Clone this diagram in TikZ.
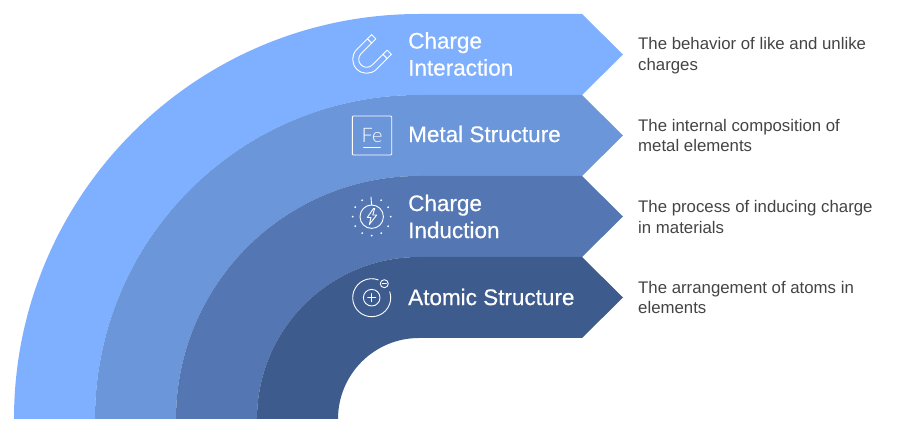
\documentclass[tikz,border=0pt]{standalone}
\usepackage{fontspec}
\setmainfont{Liberation Sans}
\newfontfamily\titlefont[FakeBold=0.35]{Liberation Sans}
\newfontfamily\thinfont{Lato Light}
\definecolor{bandA}{HTML}{7FB0FF}
\definecolor{bandB}{HTML}{6B96D9}
\definecolor{bandC}{HTML}{5477B3}
\definecolor{bandD}{HTML}{3E5B8D}
\definecolor{noteText}{HTML}{444444}
\tikzset{
	title/.style={anchor=west,align=left,text=white,inner sep=0pt,font=\titlefont\fontsize{22.5}{27}\selectfont},
	note/.style={anchor=west,align=left,text=noteText,inner sep=0pt,font=\fontsize{16.8}{20.5}\selectfont},
	icon/.style={draw=white,line width=0.9pt,line join=round,line cap=round}
}
\begin{document}
\begin{tikzpicture}[x=1pt,y=1pt]
	\useasboundingbox (0,0) rectangle (906,434);
	% bands, outermost first
	\foreach \rad/\col in {405/bandA,324/bandB,243/bandC,162/bandD}
		\fill[\col] (419-\rad,15) arc[start angle=180,end angle=90,radius=\rad pt]--(582,15+\rad)--(623,15+\rad-40.5)--(582,15+\rad-81)--(419,15+\rad-81) arc[start angle=90,end angle=180,radius={(\rad-81)*1pt}]--cycle;
	% titles
	\node[title] (charge) at (408,380) {Charge\\Interaction};
	\node[title] (metal) at (408,300) {Metal Structure};
	\node[title] (induction) at (408,217.5) {Charge\\Induction};
	\node[title] (atomic) at (408,137) {Atomic Structure};
	% notes
	\node[note] (chargeNote) at (638,378.5) {The behavior of like and unlike\\charges};
	\node[note] (metalNote) at (638,298.7) {The internal composition of\\metal elements};
	\node[note] (inductionNote) at (638,217) {The process of inducing charge\\in materials};
	\node[note] (atomicNote) at (638,136.7) {The arrangement of atoms in\\elements};
	% magnet
	\begin{scope}[shift={(366.7,374.7)},rotate=-45]
		\draw[icon] (-14,21)--(-14,0) arc[start angle=180,end angle=360,radius=14pt]--(14,21)--(8,21)--(8,0) arc[start angle=360,end angle=180,radius=8pt]--(-8,21)--cycle;
		\draw[icon] (-14,15)--(-8,15) (8,15)--(14,15);
	\end{scope}
	% Fe box
	\draw[icon,rounded corners=1pt] (352.3,279) rectangle (391.7,318);
	\node[text=white,inner sep=0pt,font=\thinfont\fontsize{20}{20}\selectfont] (fe) at (372,298.5) {Fe};
	\draw[icon] (363.5,287)--(380.5,287);
	% induction icon
	\draw[icon] (371.7,217.3) circle[radius=11.7pt];
	\draw[icon] (371.7,229) .. controls (372.5,232) and (370,234) .. (371,237);
	\draw[icon] (373.5,225.5)--(367.3,216.5)--(371,216.5)--(369.3,209.5)--(376.7,219)--(372.7,219)--(374.7,225.5)--cycle;
	\foreach \ang in {0,30,60,120,150,180,210,240,270,300,330}
		\fill[white] (371.7,217.3)+(\ang:19) circle[radius=1pt];
	% atom icon
	\draw[icon] (371.7,136.3)+(70:19) arc[start angle=70,end angle=378,radius=19pt];
	\draw[icon] (371.7,136.3) circle[radius=8.3pt];
	\draw[icon] (367.7,136.3)--(375.7,136.3) (371.7,132.3)--(371.7,140.3);
	\draw[icon] (384.3,150.3) circle[radius=4pt];
	\draw[icon] (382.3,150.3)--(386.3,150.3);
\end{tikzpicture}
\end{document}
